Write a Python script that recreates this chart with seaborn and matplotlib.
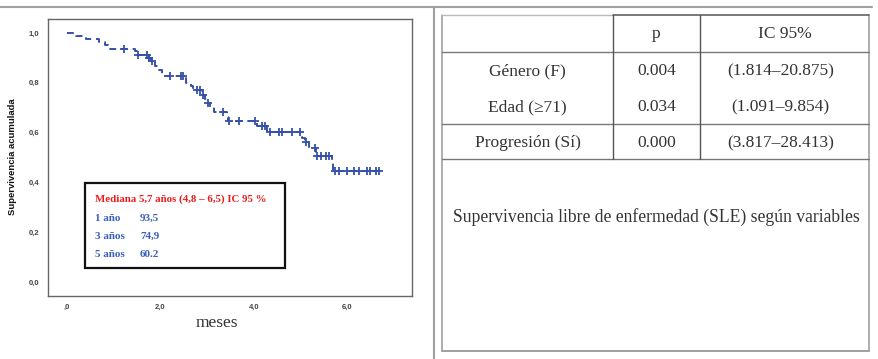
import numpy as np
import matplotlib
matplotlib.use("Agg")
import matplotlib.pyplot as plt
from matplotlib.patches import Rectangle
import seaborn as sns

# Kaplan-Meier curve (time in "meses", cumulative survival)
km_time = [0, 0.20, 0.41, 0.69, 0.81, 0.88, 1.45, 1.50, 1.75, 1.80, 1.89, 1.95,
           2.04, 2.52, 2.54, 2.66, 2.70, 2.89, 2.96, 3.01, 3.06, 3.14, 3.43, 3.45,
           4.07, 4.29, 5.04, 5.10, 5.18, 5.34, 5.68, 5.69, 6.70]
km_surv = [1.0, 0.987, 0.975, 0.962, 0.950, 0.937, 0.926, 0.913, 0.900, 0.886,
           0.868, 0.850, 0.828, 0.819, 0.800, 0.788, 0.769, 0.752, 0.734, 0.718,
           0.702, 0.683, 0.662, 0.648, 0.627, 0.604, 0.577, 0.564, 0.540, 0.506,
           0.476, 0.447, 0.447]
censor_time = [1.21, 1.51, 1.71, 1.76, 1.81, 2.21, 2.43, 2.49, 2.79, 2.84, 2.91,
               3.02, 3.34, 3.46, 3.68, 4.02, 4.18, 4.25, 4.34, 4.54, 4.61, 4.82,
               5.00, 5.11, 5.32, 5.36, 5.43, 5.54, 5.61, 5.75, 5.82, 6.00, 6.14,
               6.25, 6.43, 6.50, 6.61, 6.68]

yticks = [0.0, 0.2, 0.4, 0.6, 0.8, 1.0]
ytick_labels = ["0,0", "0,2", "0,4", "0,6", "0,8", "1,0"]
xticks = [0, 2, 4, 6]
xtick_labels = [",0", "2,0", "4,0", "6,0"]

box_title = "Mediana 5,7 años (4,8 – 6,5) IC 95 %"
box_years = ["1 año", "3 años", "5 años"]
box_values = ["93,5", "74,9", "60.2"]

# table on the right
col_headers = ["p", "IC 95%"]
row_labels = ["Género (F)", "Edad (≥71)", "Progresión (Sí)"]
p_values = ["0.004", "0.034", "0.000"]
ic_values = ["(1.814–20.875)", "(1.091–9.854)", "(3.817–28.413)"]
caption = "Supervivencia libre de enfermedad (SLE) según variables"

sns.set_style("white")
serif = ["Liberation Serif", "DejaVu Serif"]
sans = ["Liberation Sans", "DejaVu Sans"]
plt.rcParams["font.family"] = sans

W, H = 879, 359
fig = plt.figure(figsize=(W / 100, H / 100), dpi=100)

# background layout layer in pixel coordinates
bg = fig.add_axes([0, 0, 1, 1])
bg.set_xlim(0, W)
bg.set_ylim(H, 0)
bg.axis("off")

# KM axes
ax = fig.add_axes([48 / W, 1 - 296 / H, 364 / W, 277 / H])
blue = "#3550a8"
sns.lineplot(x=km_time, y=km_surv, drawstyle="steps-post", color=blue,
             linewidth=1.4, linestyle=(0, (3.5, 2.5)), errorbar=None, ax=ax)
ct = np.array(censor_time)
idx = np.searchsorted(km_time, ct, side="right") - 1
cs = np.array(km_surv)[idx]
sns.scatterplot(x=ct, y=cs, marker="+", s=26, color=blue, linewidth=1.3, ax=ax)

ax.set_xlim(-0.41, 7.39)
ax.set_ylim(-0.056, 1.056)
ax.set_xticks(xticks)
ax.set_xticklabels(xtick_labels)
ax.set_yticks(yticks)
ax.set_yticklabels(ytick_labels)
ax.tick_params(direction="out", length=4, width=0.8, color="#555555",
               labelsize=5.5, labelcolor="#444444", pad=2)
for lab in ax.get_xticklabels() + ax.get_yticklabels():
    lab.set_fontweight("bold")
for sp in ax.spines.values():
    sp.set_color("#666666")
    sp.set_linewidth(1.0)

ax.set_xlabel("meses", fontsize=12.5, family=serif, color="#333333")
ax.xaxis.label.set_va("center")
ax.xaxis.set_label_coords(0.464, -0.097)
ax.set_ylabel("Supervivencia acumulada", fontsize=6.8, fontweight="bold", color="#111111")
ax.yaxis.set_label_coords(-0.085, 0.502)

# annotation box
ax.add_patch(Rectangle((0.39, 0.058), 4.28, 0.338, fill=False, edgecolor="#111111",
                       linewidth=1.6, zorder=5))
ax.text(0.6, 0.332, box_title, color="#ee1c1c", fontsize=7.8, fontweight="bold",
        family=serif, va="center", ha="left")
for i, (yr, val) in enumerate(zip(box_years, box_values)):
    yy = 0.255 - i * 0.0725
    ax.text(0.6, yy, yr, color="#3a5fc0", fontsize=8, fontweight="bold",
            family=serif, va="center", ha="left")
    ax.text(1.56, yy, val, color="#3a5fc0", fontsize=8, fontweight="bold",
            family=serif, va="center", ha="left")

# outer frame lines of the composite
frame = "#a0a0a0"
bg.plot([0, 872], [7, 7], color=frame, lw=1.5)
bg.plot([434, 434], [7, H], color=frame, lw=1.5)

# table grid
tl, tr, tt, tb = 442, 869, 15, 351
c1, c2 = 613, 700
line_c = "#777777"
bg.plot([tl, tl], [tt, tb], color="#999999", lw=1.1)
bg.plot([tr, tr], [tt, tb], color="#999999", lw=1.1)
bg.plot([tl, tr], [tb, tb], color="#999999", lw=1.3)
bg.plot([tl, c1], [tt, tt], color="#bbbbbb", lw=1.0)
bg.plot([c1, tr], [tt, tt], color="#555555", lw=1.1)
for yy in [52, 124, 159]:
    bg.plot([tl, tr], [yy, yy], color=line_c, lw=1.0)
for xx in [c1, c2]:
    bg.plot([xx, xx], [tt, 159], color="#555555", lw=1.0)

tcol = "#333333"
fs = 12.5
col_x = [(c1 + c2) / 2, (c2 + tr) / 2]
for cx, hdr in zip(col_x, col_headers):
    bg.text(cx, 34, hdr, ha="center", va="center", fontsize=fs, family=serif, color=tcol)
row_y = [71, 107, 143]
for ry, lab, pv, ic in zip(row_y, row_labels, p_values, ic_values):
    bg.text((tl + c1) / 2, ry, lab, ha="center", va="center", fontsize=fs, family=serif, color=tcol)
    bg.text(col_x[0], ry, pv, ha="center", va="center", fontsize=fs, family=serif, color=tcol)
    bg.text(col_x[1] - 4, ry, ic, ha="center", va="center", fontsize=fs, family=serif, color=tcol)
bg.text((tl + tr) / 2 + 1, 217, caption, ha="center", va="center", fontsize=12.7,
        family=serif, color=tcol)

fig.savefig("out.png", dpi=100)
